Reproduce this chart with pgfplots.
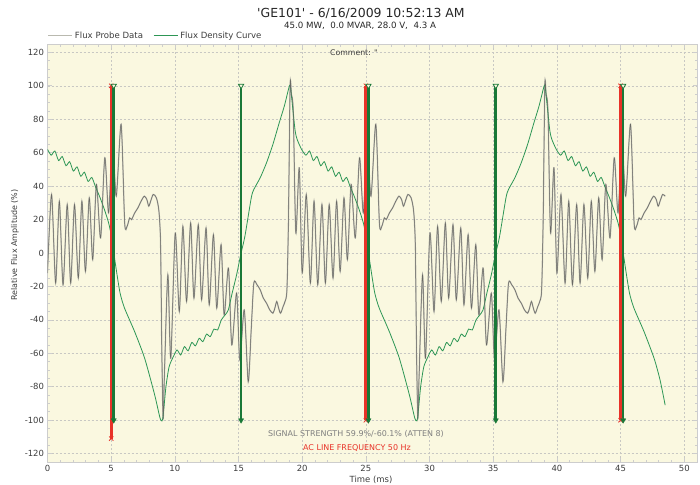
\documentclass[border=0pt]{standalone}
\usepackage{pgfplots}
\pgfplotsset{compat=1.18}
\usepackage{pgfplotstable}
\usepackage{fontspec}
\setmainfont{DejaVu Sans}[Ligatures=TeXOff]
\setsansfont{DejaVu Sans}[Ligatures=TeXOff]
\definecolor{bgc}{RGB}{250,248,224}
\definecolor{probe}{RGB}{105,105,100}
\definecolor{probelt}{RGB}{185,185,175}
\definecolor{fluxg}{RGB}{45,150,85}
\definecolor{markg}{RGB}{25,120,55}
\definecolor{markr}{RGB}{232,50,40}
\definecolor{gridc}{RGB}{200,200,195}
\definecolor{axc}{RGB}{205,205,205}
\definecolor{txt}{RGB}{60,60,60}

\pgfplotstableread{
t v
0.00 -12
0.32 35
0.64 -18
0.93 31
1.22 -19
1.55 29
1.82 -18
2.12 29
2.42 -15
2.70 31
2.98 -11
3.28 33
3.55 -4
3.84 41
4.17 9
4.50 57
4.80 24
5.10 67
5.40 34
5.78 77
6.06 18
6.25 16
6.45 21
6.60 20
6.85 24
7.10 27
7.35 31
7.60 34
7.80 32
7.95 28
8.10 31
8.30 35
8.55 33
8.75 25
8.88 5
8.98 -60
9.08 -99
9.18 -73
9.45 -13
9.68 -63
10.03 12
10.35 -35
10.63 16
10.92 -29
11.24 18
11.50 -27
11.84 17
12.10 -28
12.45 15
12.70 -31
13.03 11
13.29 -33
13.63 5
13.87 -37
14.21 -9
14.47 -55
14.85 -24
15.10 -64
15.45 -34
15.76 -77
16.00 -45
16.20 -18
16.45 -19
16.70 -22
16.95 -27
17.20 -30
17.45 -34
17.70 -36
17.85 -33
18.00 -29
18.15 -33
18.30 -36
18.50 -32
18.65 -29
18.80 -22
18.92 20
19.05 100
19.15 95
19.30 84
19.50 12
19.77 51
20.00 -12
20.32 35
20.64 -18
20.93 31
21.22 -19
21.55 29
21.82 -18
22.12 29
22.42 -15
22.70 31
22.98 -11
23.28 33
23.55 -4
23.84 41
24.17 9
24.50 57
24.80 24
25.10 67
25.40 34
25.78 77
26.06 18
26.25 16
26.45 21
26.60 20
26.85 24
27.10 27
27.35 31
27.60 34
27.80 32
27.95 28
28.10 31
28.30 35
28.55 33
28.75 25
28.88 5
28.98 -60
29.08 -99
29.18 -73
29.45 -13
29.68 -63
30.03 12
30.35 -35
30.63 16
30.92 -29
31.24 18
31.50 -27
31.84 17
32.10 -28
32.45 15
32.70 -31
33.03 11
33.29 -33
33.63 5
33.87 -37
34.21 -9
34.47 -55
34.85 -24
35.10 -64
35.45 -34
35.76 -77
36.00 -45
36.20 -18
36.45 -19
36.70 -22
36.95 -27
37.20 -30
37.45 -34
37.70 -36
37.85 -33
38.00 -29
38.15 -33
38.30 -36
38.50 -32
38.65 -29
38.80 -22
38.92 20
39.05 100
39.15 95
39.30 84
39.50 12
39.77 51
40.00 -12
40.32 35
40.64 -18
40.93 31
41.22 -19
41.55 29
41.82 -18
42.12 29
42.42 -15
42.70 31
42.98 -11
43.28 33
43.55 -4
43.84 41
44.17 9
44.50 57
44.80 24
45.10 67
45.40 34
45.78 77
46.06 18
46.25 16
46.45 21
46.60 20
46.85 24
47.10 27
47.35 31
47.60 34
47.80 32
47.95 28
48.10 31
48.30 35
48.50 34
}\probe

\pgfplotstableread{
t v
0.00 62
0.29 58.5
0.58 61
0.87 55.3
1.16 57.7
1.45 52.2
1.74 54.6
2.03 49
2.32 51.5
2.61 45.9
2.90 48.3
3.19 42.8
3.48 45.2
3.77 39.6
4.08 34
4.47 26
4.80 18
5.00 10.5
5.40 -10
5.70 -24
6.05 -33
6.84 -47
7.63 -63
8.42 -85
8.85 -99
9.05 -99
9.30 -80
9.55 -68
9.88 -62
10.17 -58
10.46 -61
10.75 -56
11.04 -58.5
11.33 -53.5
11.62 -55.5
11.91 -51
12.20 -53
12.49 -48.5
12.78 -50
13.07 -45.5
13.36 -46
13.65 -40
13.95 -37
14.20 -34
14.50 -24
14.85 -13
15.20 0
15.50 10
16.00 33
16.20 38
16.70 45
17.20 54
17.70 65
18.20 78
18.60 88
19.00 100
19.10 98
19.43 74
19.60 68
19.95 62
20.29 58.5
20.58 61
20.87 55.3
21.16 57.7
21.45 52.2
21.74 54.6
22.03 49
22.32 51.5
22.61 45.9
22.90 48.3
23.19 42.8
23.48 45.2
23.77 39.6
24.08 34
24.47 26
24.80 18
25.00 10.5
25.40 -10
25.70 -24
26.05 -33
26.84 -47
27.63 -63
28.42 -85
28.85 -99
29.05 -99
29.30 -80
29.55 -68
29.88 -62
30.17 -58
30.46 -61
30.75 -56
31.04 -58.5
31.33 -53.5
31.62 -55.5
31.91 -51
32.20 -53
32.49 -48.5
32.78 -50
33.07 -45.5
33.36 -46
33.65 -40
33.95 -37
34.20 -34
34.50 -24
34.85 -13
35.20 0
35.50 10
36.00 33
36.20 38
36.70 45
37.20 54
37.70 65
38.20 78
38.60 88
39.00 100
39.10 98
39.43 74
39.60 68
39.95 62
40.29 58.5
40.58 61
40.87 55.3
41.16 57.7
41.45 52.2
41.74 54.6
42.03 49
42.32 51.5
42.61 45.9
42.90 48.3
43.19 42.8
43.48 45.2
43.77 39.6
44.08 34
44.47 26
44.80 18
45.00 10.5
45.40 -10
45.70 -24
46.05 -33
46.84 -47
47.63 -63
48.10 -76
48.50 -91
}\density

\begin{document}
\begin{tikzpicture}
\useasboundingbox (0bp,0bp) rectangle (700bp,-485bp);
\begin{axis}[
  at={(47.5bp,-462bp)}, anchor=south west,
  scale only axis, width=649.5bp, height=418bp,
  xmin=0, xmax=51, ymin=-125, ymax=125,
  xtick={0,5,...,50}, ytick={-120,-100,...,120},
  minor x tick num=4, minor y tick num=3,
  grid=major,
  major grid style={gridc, line width=0.6bp, dash pattern=on 2bp off 2bp},
  axis background/.style={fill=bgc},
  axis line style={axc, line width=1bp},
  tick style={axc, line width=0.7bp},
  major tick length=4bp, minor tick length=2.5bp,
  /pgf/number format/assume math mode=true,
  tick label style={font=\fontsize{8.5}{10}\selectfont, text=txt},
  legend style={at={(0,1)}, anchor=south west, draw=none, fill=none,
    legend columns=2, font=\fontsize{8.6}{9}\selectfont,
    inner sep=1bp, xshift=-1bp, yshift=1bp,
    /tikz/every even column/.append style={column sep=8bp}},
]
\addlegendimage{legend image code/.code={\draw[probelt, line width=1.3bp] (0bp,0bp) -- (24bp,0bp);}}
\addlegendentry{\color{txt}Flux Probe Data}
\addlegendimage{legend image code/.code={\draw[fluxg, line width=1.3bp] (0bp,0bp) -- (24bp,0bp);}}
\addlegendentry{\color{txt}Flux Density Curve}

\addplot[probelt, line width=1.3bp, smooth, tension=0.45, forget plot] table {\probe};
\addplot[fluxg, line width=0.8bp, smooth, tension=0.4, forget plot] table {\density};
\addplot[probe, line width=0.5bp, smooth, tension=0.45, forget plot] table {\probe};

\addplot[markr, line width=3.2bp, forget plot] coordinates {(5,100) (5,-111)};
\addplot[markr, line width=3.2bp, forget plot] coordinates {(25,100) (25,-100)};
\addplot[markr, line width=3.2bp, forget plot] coordinates {(45,100) (45,-100)};
\addplot[only marks, mark=x, mark size=3bp, mark options={markr, line width=0.8bp}, forget plot]
  coordinates {(5,100) (5,-111) (25,100) (25,-100) (45,100) (45,-100)};

\addplot[markg, line width=2.6bp, forget plot] coordinates {(5.2,100) (5.2,-100)};
\addplot[markg, line width=2.6bp, forget plot] coordinates {(15.2,100) (15.2,-100)};
\addplot[markg, line width=2.6bp, forget plot] coordinates {(25.2,100) (25.2,-100)};
\addplot[markg, line width=2.6bp, forget plot] coordinates {(35.2,100) (35.2,-100)};
\addplot[markg, line width=2.6bp, forget plot] coordinates {(45.2,100) (45.2,-100)};
\addplot[only marks, mark=triangle*, mark size=3bp, mark options={rotate=180, fill=bgc, draw=markg, line width=0.8bp}, forget plot]
  coordinates {(5.2,100) (15.2,100) (25.2,100) (35.2,100) (45.2,100)};
\addplot[only marks, mark=triangle*, mark size=3bp, mark options={rotate=180, fill=markg, draw=markg}, forget plot]
  coordinates {(5.2,-100) (15.2,-100) (25.2,-100) (35.2,-100) (45.2,-100)};
\end{axis}
\node[font=\fontsize{12.5}{14}\selectfont, text=black!85] at (361bp,-13bp) {'GE101' - 6/16/2009 10:52:13 AM};
\node[font=\fontsize{8.7}{10}\selectfont, text=black!85] at (360bp,-25.5bp) {45.0 MW,~~0.0 MVAR, 28.0 V,~~4.3 A};
\node[font=\fontsize{7.8}{9}\selectfont, text=txt] at (354bp,-53bp) {Comment: \char"22};
\node[font=\fontsize{8}{9}\selectfont, text=black!50] at (356bp,-434bp) {SIGNAL STRENGTH 59.9\%/-60.1\% (ATTEN 8)};
\node[font=\fontsize{8}{9}\selectfont, text=markr] at (357bp,-448bp) {AC LINE FREQUENCY 50 Hz};
\node[font=\fontsize{8.5}{10}\selectfont, text=txt] at (371bp,-480bp) {Time (ms)};
\node[font=\fontsize{8}{10}\selectfont, text=txt, rotate=90] at (15bp,-245bp) {Relative Flux Amplitude (\%)};
\end{tikzpicture}
\end{document}
